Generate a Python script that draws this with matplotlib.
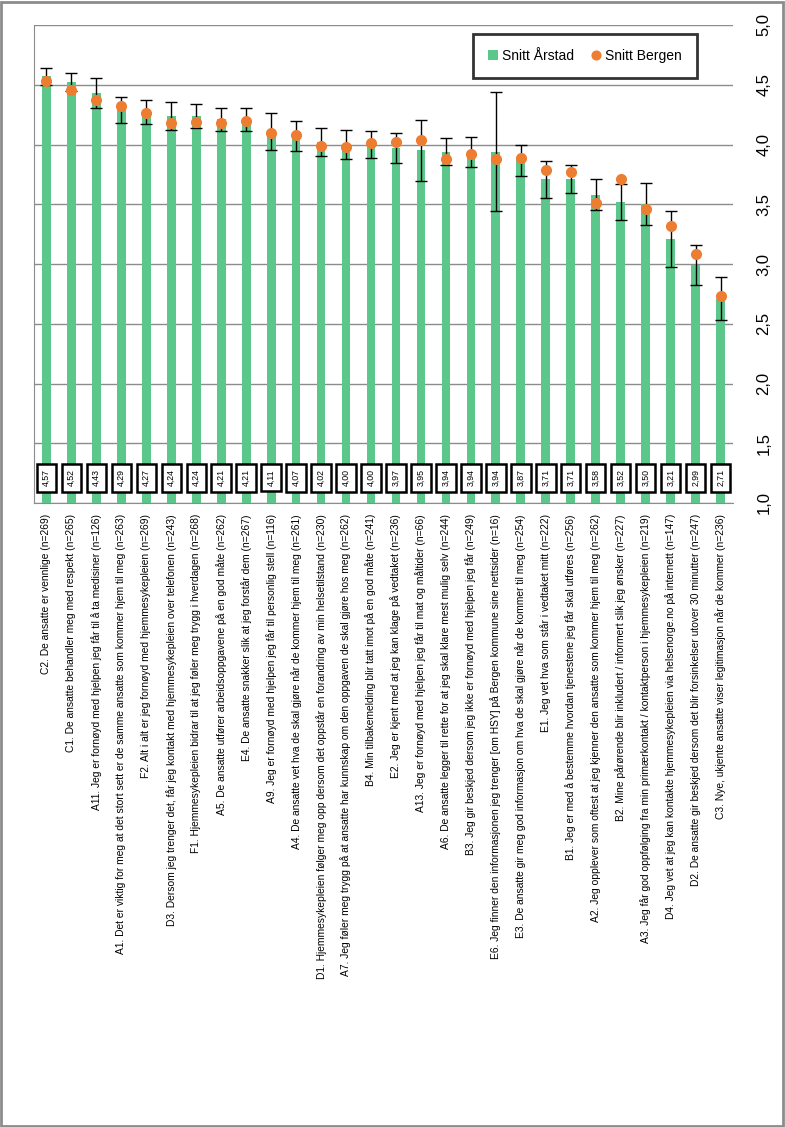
import matplotlib.pyplot as plt
import matplotlib.patches as mpatches
import numpy as np

plt.rcParams['font.family'] = ['Liberation Sans', 'DejaVu Sans']

# Spørsmål (kategorier)
questions = [
    "C2. De ansatte er vennlige (n=269)",
    "C1. De ansatte behandler meg med respekt (n=265)",
    "A11. Jeg er fornøyd med hjelpen jeg får til å ta medisiner (n=126)",
    "A1. Det er viktig for meg at det stort sett er de samme ansatte som kommer hjem til meg (n=263)",
    "F2. Alt i alt er jeg fornøyd med hjemmesykepleien (n=269)",
    "D3. Dersom jeg trenger det, får jeg kontakt med hjemmesykepleien over telefonen (n=243)",
    "F1. Hjemmesykepleien bidrar til at jeg føler meg trygg i hverdagen (n=268)",
    "A5. De ansatte utfører arbeidsoppgavene på en god måte (n=262)",
    "E4. De ansatte snakker slik at jeg forstår dem (n=267)",
    "A9. Jeg er fornøyd med hjelpen jeg får til personlig stell (n=116)",
    "A4. De ansatte vet hva de skal gjøre når de kommer hjem til meg (n=261)",
    "D1. Hjemmesykepleien følger meg opp dersom det oppstår en forandring av min helsetilstand (n=230)",
    "A7. Jeg føler meg trygg på at ansatte har kunnskap om den oppgaven de skal gjøre hos meg (n=262)",
    "B4. Min tilbakemelding blir tatt imot på en god måte (n=241)",
    "E2. Jeg er kjent med at jeg kan klage på vedtaket (n=236)",
    "A13. Jeg er fornøyd med hjelpen jeg får til mat og måltider (n=66)",
    "A6. De ansatte legger til rette for at jeg skal klare mest mulig selv (n=244)",
    "B3. Jeg gir beskjed dersom jeg ikke er fornøyd med hjelpen jeg får (n=249)",
    "E6. Jeg finner den informasjonen jeg trenger [om HSY] på Bergen kommune sine nettsider (n=16)",
    "E3. De ansatte gir meg god informasjon om hva de skal gjøre når de kommer til meg (n=254)",
    "E1. Jeg vet hva som står i vedtaket mitt (n=222)",
    "B1. Jeg er med å bestemme hvordan tjenestene jeg får skal utføres (n=256)",
    "A2. Jeg opplever som oftest at jeg kjenner den ansatte som kommer hjem til meg (n=262)",
    "B2. Mine pårørende blir inkludert / informert slik jeg ønsker (n=227)",
    "A3. Jeg får god oppfølging fra min primærkontakt / kontaktperson i hjemmesykepleien (n=219)",
    "D4. Jeg vet at jeg kan kontakte hjemmesykepleien via helsenorge.no på internett (n=147)",
    "D2. De ansatte gir beskjed dersom det blir forsinkelser utover 30 minutter (n=247)",
    "C3. Nye, ukjente ansatte viser legitimasjon når de kommer (n=236)",
]

# Snitt Årstad
arstad = [4.57, 4.52, 4.43, 4.29, 4.27, 4.24, 4.24, 4.21, 4.21, 4.11, 4.07, 4.02, 4.00, 4.00,
          3.97, 3.95, 3.94, 3.94, 3.94, 3.87, 3.71, 3.71, 3.58, 3.52, 3.50, 3.21, 2.99, 2.71]

# Feilmargin Årstad
arstad_err = [0.07, 0.075, 0.125, 0.11, 0.10, 0.115, 0.10, 0.095, 0.095, 0.155, 0.125, 0.12, 0.12, 0.11,
              0.125, 0.255, 0.115, 0.125, 0.50, 0.13, 0.155, 0.12, 0.13, 0.15, 0.175, 0.235, 0.165, 0.18]

# Snitt Bergen
bergen = [4.53, 4.46, 4.37, 4.32, 4.26, 4.18, 4.19, 4.18, 4.20, 4.10, 4.08, 3.99, 3.98, 4.01,
          4.02, 4.04, 3.88, 3.92, 3.88, 3.89, 3.79, 3.77, 3.51, 3.71, 3.46, 3.32, 3.08, 2.73]

green = '#5BC78A'
orange = '#ED7D31'

fig = plt.figure(figsize=(7.85, 11.27), dpi=100)
ax = fig.add_axes([34 / 785, 1 - 503 / 1127, 699 / 785, 478 / 1127])

x = np.arange(len(questions))
bars = ax.bar(x, arstad, width=0.35, color=green, label='Snitt Årstad', zorder=2)
ax.errorbar(x, arstad, yerr=arstad_err, fmt='none', ecolor='black', elinewidth=1,
            capsize=4, capthick=1, zorder=3)
dots, = ax.plot(x, bergen, 'o', color=orange, markersize=7, label='Snitt Bergen', zorder=4)

# verdibokser nederst
for xi, v in zip(x, arstad):
    ax.text(xi, 1.21, f'{v:.2f}'.replace('.', ','), rotation=90, ha='center', va='center',
            fontsize=6.3, zorder=5,
            bbox=dict(boxstyle='square,pad=0.6', facecolor='white', edgecolor='black', linewidth=1.8))

ax.set_xlim(-0.5, len(questions) - 0.5)
ax.set_ylim(1, 5)
ax.set_yticks(np.arange(1, 5.01, 0.5))
ax.set_yticklabels([f'{t:.1f}'.replace('.', ',') for t in np.arange(1, 5.01, 0.5)],
                   rotation=90, va='center', fontsize=12)
ax.yaxis.tick_right()
ax.tick_params(axis='y', length=0, pad=17)
ax.set_xticks(x)
ax.set_xticklabels(questions, rotation=90, fontsize=7.4)
ax.tick_params(axis='x', length=0, pad=8)

ax.grid(axis='y', color='#8C8C8C', linewidth=1, zorder=0)
ax.set_axisbelow(True)
for side in ['top', 'right']:
    ax.spines[side].set_visible(False)
for side in ['left', 'bottom']:
    ax.spines[side].set_color('#8C8C8C')

leg = ax.legend([bars, dots], ['Snitt Årstad', 'Snitt Bergen'], loc='center',
                bbox_to_anchor=(0.788, 0.935), ncol=2, fontsize=10,
                frameon=True, fancybox=False, edgecolor='black', borderpad=1.1,
                handlelength=0.7, handleheight=0.7, handletextpad=0.3, columnspacing=1.2,
                markerscale=0.9)
leg.get_frame().set_linewidth(2)

# ytre ramme
fig.patches.append(mpatches.Rectangle((0.001, 0.001), 0.997, 0.997, transform=fig.transFigure,
                                      fill=False, edgecolor='#8C8C8C', linewidth=2))

fig.savefig('out.png', dpi=100)
